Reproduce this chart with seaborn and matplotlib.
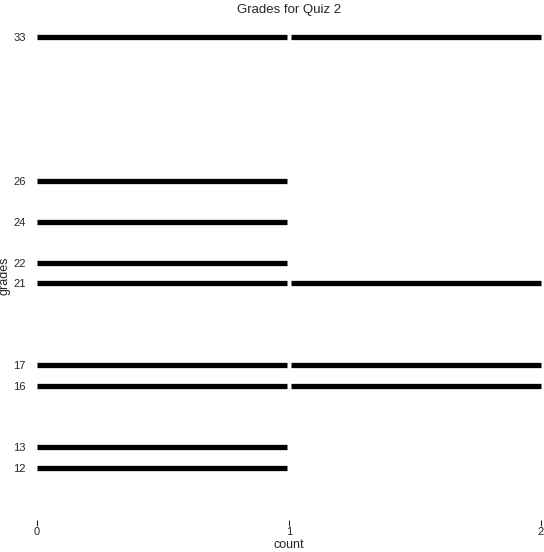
import pandas as pd
import matplotlib.pyplot as plt
import seaborn as sns

# grades and how many students got each one
grades = [12, 13, 16, 17, 21, 22, 24, 26, 33]
counts = [1, 1, 2, 2, 2, 1, 1, 1, 2]

# one short segment per student, with a small gap between units
gap = 0.008
rows = []
seg = 0
for g, c in zip(grades, counts):
    for i in range(c):
        rows.append({'grades': g, 'count': i + (gap if i > 0 else 0), 'seg': seg})
        rows.append({'grades': g, 'count': i + 1 - (gap if i + 1 < max(counts) else 0), 'seg': seg})
        seg += 1
df = pd.DataFrame(rows)

sns.set_style('white')
plt.rcParams['font.family'] = ['Liberation Sans', 'DejaVu Sans']

fig = plt.figure(figsize=(5.44, 5.52), dpi=100)
ax = fig.add_axes([37 / 544, 32 / 552, 504 / 544, 488 / 552])

sns.lineplot(data=df, x='count', y='grades', units='seg', estimator=None,
             color='black', linewidth=3.8, solid_capstyle='butt', ax=ax, clip_on=False)

ax.set_xlim(0, 2)
ax.set_ylim(12 - 52 / 20.52, 33 + 5 / 20.52)
ax.set_xticks([0, 1, 2])
ax.set_yticks(grades)
ax.tick_params(axis='y', length=0, pad=8, labelsize=8)
ax.tick_params(axis='x', length=4, width=0.8, pad=1, labelsize=8, bottom=True, direction='out')
sns.despine(ax=ax, left=True, bottom=True)
ax.set_xlabel('count', fontsize=9, labelpad=1.5)
ax.set_ylabel('grades', fontsize=9, labelpad=2)
ax.set_title('Grades for Quiz 2', fontsize=9.5, pad=14)

fig.savefig('out.png', dpi=100)
